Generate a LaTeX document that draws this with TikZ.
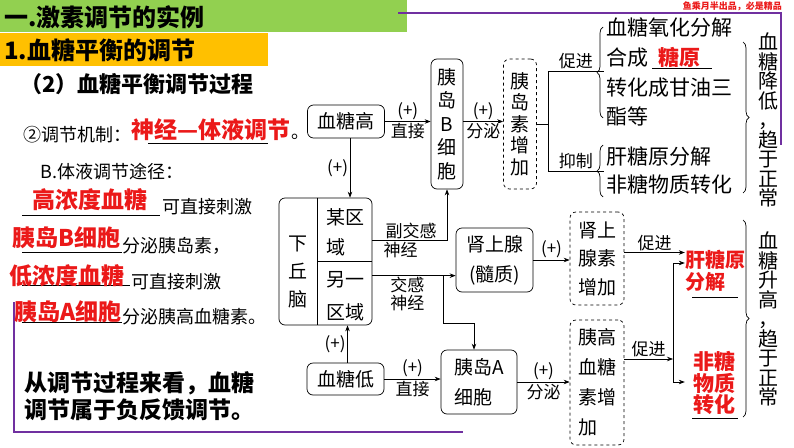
\documentclass[tikz,border=0pt]{standalone}
\usepackage{fontspec}
\setmainfont{Noto Sans CJK SC}
\usetikzlibrary{arrows.meta,calc,decorations.pathreplacing}

\definecolor{bannergreen}{RGB}{146,208,80}
\definecolor{bannerorange}{RGB}{255,192,0}
\definecolor{keyred}{RGB}{235,25,25}
\definecolor{framepurple}{RGB}{112,48,160}

\begin{document}
\begin{tikzpicture}[
  x=1pt,
  y=-1pt,
  >=Stealth,
  box/.style={draw, rounded corners=6pt, line width=0.7pt, align=center, inner sep=0pt, font=\fontsize{19}{30}\selectfont},
  dbox/.style={box, dashed},
  flow/.style={-{Stealth[length=6pt,width=4.5pt]}, line width=0.7pt},
  link/.style={line width=0.7pt},
  lab/.style={font=\fontsize{17}{18}\selectfont, inner sep=1.5pt},
  txt/.style={font=\fontsize{21}{24}\selectfont, inner sep=0pt, anchor=west},
  body/.style={font=\fontsize{18}{20}\selectfont, inner sep=0pt, anchor=west},
  key/.style={font=\bfseries\fontsize{23}{24}\selectfont, text=keyred, inner sep=0pt},
  head/.style={font=\bfseries\fontsize{24}{26}\selectfont, inner sep=0pt, anchor=west},
  vtext/.style={font=\fontsize{20}{19.5}\selectfont, align=center, inner sep=0pt},
  brc/.style={decorate, decoration={brace, amplitude=6pt}, line width=0.7pt},
  uline/.style={line width=0.7pt}
]
  \useasboundingbox (0,0) rectangle (794,447);
  \fill[white] (0,0) rectangle (794,447);

  % banners and titles
  \fill[bannergreen] (0,0) rectangle (407,32);
  \fill[bannerorange] (0,33) rectangle (268,66);
  \node[head] (title1) at (4,17) {一.激素调节的实例};
  \node[head] (title2) at (4,50) {1.血糖平衡的调节};
  \node[head, font=\bfseries\fontsize{22}{24}\selectfont] (title3) at (20,84) {（2）血糖平衡调节过程};
  \node[font=\bfseries\fontsize{9}{10}\selectfont, text=keyred, anchor=east, inner sep=0pt] (brand) at (782,6) {鱼乘月半出品，必是精品};

  % purple frame
  \draw[framepurple, line width=2.5pt] (398,13) -- (781,13) -- (781,145);
  \draw[framepurple, line width=2.5pt] (14,302) -- (14,432) -- (463,432);

  % left notes
  \node[body] (mech) at (23,135) {②调节机制：};
  \draw[uline] (148,143) -- (268,143);
  \node[key] (mechkey) at (211,130) {神经—体液调节};
  \node[body] (mechend) at (291,137) {。};
  \node[body] (routeB) at (40,172) {B.体液调节途径：};
  \draw[uline] (22,215) -- (160,215);
  \node[key] (high) at (90,200) {高浓度血糖};
  \node[body] (high2) at (162,207) {可直接刺激};
  \draw[uline] (22,252) -- (122,252);
  \node[key, anchor=west] (bname) at (12,238) {胰岛B细胞};
  \node[body] (bname2) at (122,246) {分泌胰岛素，};
  \draw[uline] (22,285) -- (130,285);
  \node[key, anchor=west] (low) at (9,276) {低浓度血糖};
  \node[body] (low2) at (131,282) {可直接刺激};
  \draw[uline] (22,322) -- (122,322);
  \node[key, anchor=west] (aname) at (14,312) {胰岛A细胞};
  \node[body] (aname2) at (122,317) {分泌胰高血糖素。};
  \node[head, font=\bfseries\fontsize{23}{27}\selectfont, align=left] (summary) at (24,396) {从调节过程来看，血糖\\调节属于负反馈调节。};

  % diagram boxes
  \node[box, minimum width=77, minimum height=33] (gao) at (346,121.5) {血糖高};
  \node[box, minimum width=32, minimum height=130, font=\fontsize{19}{23.5}\selectfont] (bcell) at (447,124) {胰\\岛\\B\\细\\胞};
  \node[dbox, minimum width=33, minimum height=130, font=\fontsize{19}{21.5}\selectfont] (insulin) at (520,124) {胰\\岛\\素\\增\\加};
  \node[box, minimum width=93, minimum height=127] (hypo) at (325.5,261.5) {};
  \draw[link] ($(hypo.north west)+(39,0)$) -- ($(hypo.south west)+(39,0)$);
  \draw[link] ($(hypo.north west)+(39,64)$) -- ($(hypo.north east)+(0,64)$);
  \node[box, draw=none, font=\fontsize{19}{28}\selectfont] (qiu) at (298,272) {下\\丘\\脑};
  \node[box, draw=none, align=left] (area1) at (345,232) {某区\\域};
  \node[box, draw=none, font=\fontsize{19}{33}\selectfont] (area2) at (345,296.5) {另一\\区域};
  \node[box, minimum width=77, minimum height=64] (shen) at (494.5,260) {肾上腺\\(髓质)};
  \node[dbox, minimum width=54, minimum height=93, font=\fontsize{19}{28.5}\selectfont] (epi) at (597,258.5) {肾上\\腺素\\增加};
  \node[dbox, minimum width=54, minimum height=125, align=left] (glucagon) at (597,382.5) {胰高\\血糖\\素增\\加};
  \node[box, minimum width=77, minimum height=32] (di) at (345.5,379) {血糖低};
  \node[box, minimum width=76, minimum height=64, align=left] (acell) at (479,382) {胰岛A\\细胞};

  % effects
  \node[txt] (eff1) at (606,28) {血糖氧化分解};
  \node[txt] (eff2) at (606,58) {合成};
  \draw[uline] (652,68) -- (712,68);
  \node[key, font=\bfseries\fontsize{21}{22}\selectfont] (glycogen) at (679,57) {糖原};
  \node[txt] (eff3) at (606,88) {转化成甘油三};
  \node[txt] (eff4) at (606,116) {酯等};
  \node[txt] (eff5) at (606,157) {肝糖原分解};
  \node[txt] (eff6) at (606,184) {非糖物质转化};
  \draw[brc] (603,118) -- (603,27);
  \draw[brc] (603,197) -- (603,145);
  \draw[brc] (743,42) -- (743,193);
  \draw[brc] (743,220) -- (743,417);
  \node[vtext] (down) at (768,120) {血\\糖\\降\\低\\，\\趋\\于\\正\\常};
  \node[vtext] (up) at (768,319) {血\\糖\\升\\高\\，\\趋\\于\\正\\常};
  \node[key, align=left, font=\bfseries\fontsize{20}{22}\selectfont] (liver) at (715,271) {肝糖原\\分解};
  \draw[uline] (692,297) -- (738,297);
  \node[key, align=center, font=\bfseries\fontsize{21}{20}\selectfont] (feitang) at (714,383) {非糖\\物质\\转化};
  \draw[uline] (692,418) -- (738,418);

  % connectors
  \draw[flow] (gao.east) -- node[lab, above]{(+)} node[lab, below]{直接} (gao.east -| bcell.west);
  \draw[flow] (bcell.east |- gao.east) -- node[lab, above]{(+)} node[lab, below]{分泌} (insulin.west |- gao.east);
  \draw[flow] ([xshift=4pt]gao.south) -- node[lab, left]{(+)} ([xshift=4pt]gao.south |- hypo.north);
  \draw[flow] ($(hypo.north east)+(0,43)$) -| node[lab, above, pos=0.26]{副交感} node[lab, below, pos=0.19]{神经} (bcell.south);
  \draw[flow] ($(hypo.north east)+(0,78)$) coordinate (jg) -- node[lab, below, align=center, pos=0.42]{交感\\神经} (jg -| shen.west);
  \coordinate (fork) at (443,276);
  \draw[flow] (fork) -- ++(0,47) -| ([xshift=-5pt]acell.north);
  \draw[flow] ([xshift=2pt]di.north) -- node[lab, left]{(+)} ([xshift=2pt]di.north |- hypo.south);
  \draw[flow] (di.east) -- node[lab, above]{(+)} node[lab, below]{直接} (di.east -| acell.west);
  \draw[flow] (acell.east) -- node[lab, above]{(+)} node[lab, below]{分泌} (acell.east -| glucagon.west);
  \draw[flow] (shen.east) -- node[lab, above]{(+)} (shen.east -| epi.west);
  \draw[flow] ([yshift=6pt]epi.east) -- node[lab, above]{促进} ([yshift=6pt]epi.east -| liver.west);
  \coordinate (vt) at (673,263);
  \coordinate (vb) at (673,382);
  \draw[flow] ([yshift=23.5pt]glucagon.east) -- node[lab, above]{促进} ([yshift=23.5pt]glucagon.east -| vt);
  \draw[link] (vt) -- (vb);
  \draw[flow] (vt) -- (vt -| liver.west);
  \draw[flow] (vb) -- ([xshift=-8pt]feitang.west |- vb);
  \draw[link] (insulin.east) -- ++(11,0) coordinate (ij);
  \draw[link] ($(ij)+(0,-53)$) coordinate (cu) -- ($(ij)+(0,47)$) coordinate (cd);
  \draw[link] (cu) -- node[lab, above]{促进} ++(56,0);
  \draw[link] (cd) -- node[lab, above]{抑制} ++(56,0);
\end{tikzpicture}
\end{document}
